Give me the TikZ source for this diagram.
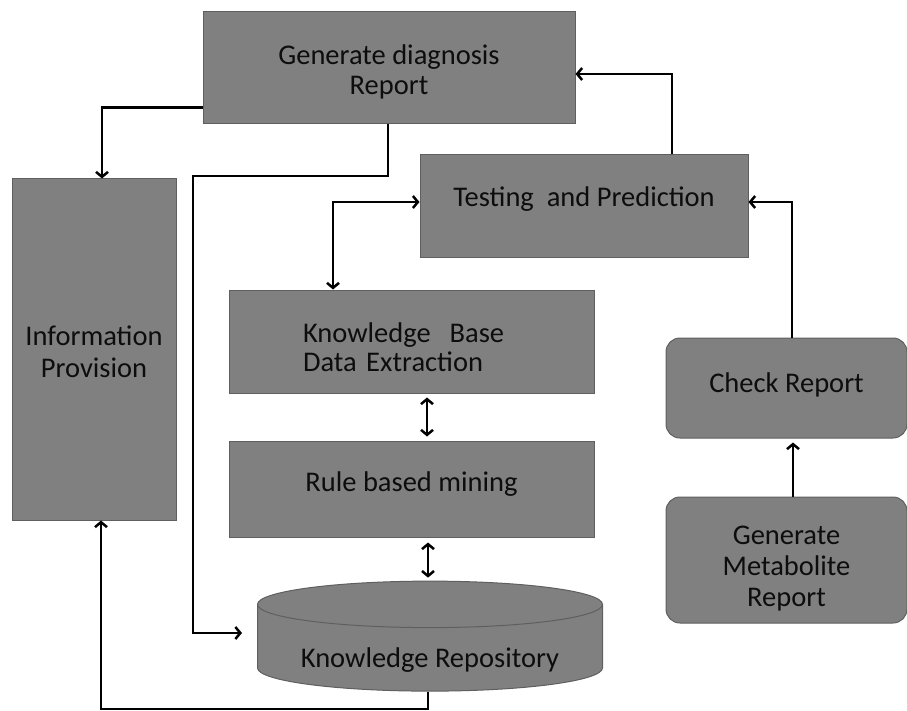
\documentclass[tikz,border=0pt]{standalone}
\usepackage{fontspec}
\setmainfont{Carlito}
\usetikzlibrary{positioning,arrows.meta,shapes.geometric}
\definecolor{boxgray}{RGB}{128,128,128}
\definecolor{edgegray}{RGB}{95,95,95}
\tikzset{
    x=1pt,
    y=-1pt,
    block/.style = {
        draw=edgegray,
        fill=boxgray,
        shape=rectangle,
        line width=1pt,
        inner sep=0pt,
        align=center,
        text=black!95,
        font=\fontsize{28.5}{31}\selectfont
    },
    rblock/.style = {
        block,
        rounded corners=14pt
    },
    store/.style = {
        block,
        shape=cylinder,
        shape border rotate=90,
        aspect=0.18
    },
    link/.style = {
        draw,
        line width=2.5pt,
        black
    },
    >={Straight Barb[length=5pt,width=12pt]},
}
\begin{document}
\begin{tikzpicture}
                \useasboundingbox (0,0) rectangle (907,711);
                \node[block, minimum width=372, minimum height=112, text height=58pt, font=\fontsize{28.5}{30}\selectfont] (diag) at (389,68) {Generate diagnosis\\Report};
                \node[block, minimum width=328, minimum height=103, text depth=19pt] (test) at (584,206.5) {Testing\ \ and Prediction};
                \node[block, minimum width=164, minimum height=341, text height=56pt, font=\fontsize{28.5}{32}\selectfont] (info) at (94,349.5) {Information\\Provision};
                \node[block, minimum width=365, minimum height=103, text width=217, align=left, text height=32pt, font=\fontsize{28.5}{29}\selectfont] (kb) at (411.5,341.5) {Knowledge\ \ Base\\Data Extraction};
                \node[block, minimum width=365, minimum height=96, text depth=14pt] (rule) at (411.5,489) {Rule based mining};
                \node[store, minimum width=345, minimum height=110] (repo) at (430,648) {\raisebox{-19pt}[0pt][0pt]{Knowledge Repository}};
                \node[rblock, minimum width=241, minimum height=100, text depth=10pt] (check) at (786.5,388) {Check Report};
                \node[rblock, minimum width=241, minimum height=126, text height=97pt] (meta) at (786.5,560) {Generate\\Metabolite\\Report};

                \coordinate (repoturn) at (193,176);
                \coordinate (infoturn) at (101,709);

                \path[link, ->] ([yshift=17pt]diag.south west) -| ([xshift=8pt]info.north);
                \path[link, ->] ([xshift=-1pt]diag.south) |- (repoturn) |- ([xshift=-15pt,yshift=15pt]repo.west);
                \path[link, ->] ([xshift=88pt]test.north) |- ([yshift=-6pt]diag.east);
                \path[link, ->] ([xshift=5.5pt]check.north) |- ([yshift=4.5pt]test.east);
                \path[link, <->] ([yshift=4.5pt]test.west) -| ([xshift=-78.5pt]kb.north);
                \path[link, <->, shorten <=4pt, shorten >=4pt] ([xshift=15.5pt]kb.south) -- ([xshift=15.5pt]rule.north);
                \path[link, <->, shorten <=5pt, shorten >=3pt] ([xshift=16.5pt]rule.south) -- ([xshift=-2pt]repo.north);
                \path[link, ->] ([xshift=-2pt]repo.south) |- (infoturn) -- ([xshift=7pt]info.south);
                \path[link, ->, shorten >=4pt] ([xshift=6.5pt]meta.north) -- ([xshift=6.5pt]check.south);
\end{tikzpicture}
\end{document}
